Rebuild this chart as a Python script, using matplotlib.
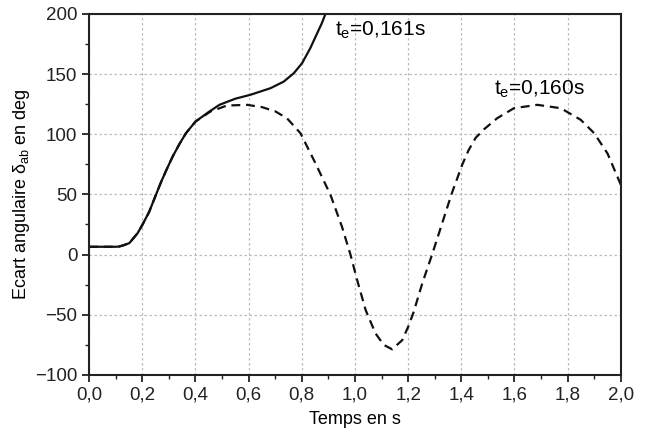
import numpy as np
import matplotlib
matplotlib.use('Agg')
import matplotlib.pyplot as plt
from matplotlib.ticker import MultipleLocator

plt.rcParams['font.family'] = ['Liberation Sans', 'DejaVu Sans']
plt.rcParams['mathtext.fontset'] = 'custom'
plt.rcParams['mathtext.rm'] = 'Liberation Sans'
plt.rcParams['mathtext.it'] = 'Liberation Sans:italic'

# ===== DATA =====
# t_e = 0,161 s : instable (courbe continue)
t_instable = [0.0, 0.05, 0.10, 0.113, 0.13, 0.151, 0.182, 0.20, 0.226, 0.251,
              0.27, 0.29, 0.314, 0.34, 0.364, 0.40, 0.452, 0.49, 0.55, 0.606,
              0.682, 0.732, 0.77, 0.801, 0.832, 0.858, 0.875, 0.889]
d_instable = [6.5, 6.5, 6.5, 6.7, 7.8, 9.5, 17.7, 24.6, 35.6, 49.5,
              60.0, 70.0, 81.4, 92.0, 100.8, 110.5, 118.8, 124.4, 129.5, 132.7,
              138.2, 143.7, 150.7, 159.0, 171.5, 184.0, 192.0, 200.0]

# t_e = 0,160 s : stable (courbe en tirets)
t_stable = [0.0, 0.05, 0.10, 0.113, 0.13, 0.151, 0.182, 0.20, 0.226, 0.251,
            0.27, 0.29, 0.314, 0.34, 0.364, 0.40, 0.456, 0.518, 0.594, 0.65,
            0.70, 0.744, 0.795, 0.851, 0.908, 0.951, 0.983, 1.008, 1.04, 1.077,
            1.108, 1.14, 1.178, 1.203, 1.221, 1.253, 1.29, 1.328, 1.341, 1.366,
            1.404, 1.428, 1.454, 1.485, 1.535, 1.598, 1.686, 1.774, 1.849, 1.90,
            1.95, 2.0]
d_stable = [6.5, 6.5, 6.5, 6.7, 7.8, 9.5, 17.7, 24.6, 35.6, 49.5,
            60.0, 70.0, 81.4, 92.0, 100.8, 110.5, 118.8, 123.8, 124.4, 122.5,
            119.0, 113.3, 100.8, 76.0, 49.5, 23.2, 0.0, -21.0, -46.0, -65.4,
            -75.0, -78.7, -71.0, -58.5, -47.5, -24.0, 0.0, 26.0, 35.0, 52.0,
            75.0, 87.0, 97.0, 104.0, 113.3, 121.6, 124.4, 121.6, 112.0, 100.8,
            84.0, 58.0]

x_ticks = [0.0, 0.2, 0.4, 0.6, 0.8, 1.0, 1.2, 1.4, 1.6, 1.8, 2.0]
x_ticklabels = ['0,0', '0,2', '0,4', '0,6', '0,8', '1,0', '1,2', '1,4', '1,6', '1,8', '2,0']
y_ticks = [-100, -50, 0, 50, 100, 150, 200]

fig = plt.figure(figsize=(6.46, 4.32), dpi=100)
ax = fig.add_axes([0.138, 0.132, 0.823, 0.836])

ax.plot(t_instable, d_instable, color='#111111', lw=1.6, ls='-')
ax.plot(t_stable, d_stable, color='#111111', lw=1.6, ls=(0, (4, 2.6)))

ax.text(0.925, 186, r'$\mathrm{t_e}$=0,161s', fontsize=15, va='center', ha='left')
ax.text(1.523, 137, r'$\mathrm{t_e}$=0,160s', fontsize=15, va='center', ha='left')

ax.set_xlim(0, 2.0)
ax.set_ylim(-100, 200)
ax.set_xticks(x_ticks)
ax.set_xticklabels(x_ticklabels)
ax.set_yticks(y_ticks)
ax.xaxis.set_minor_locator(MultipleLocator(0.1))
ax.yaxis.set_minor_locator(MultipleLocator(25))

ax.tick_params(which='major', direction='out', length=5, width=1.3, labelsize=13.5,
               top=False, right=False, colors='#222222')
ax.tick_params(which='minor', direction='out', length=3, width=1.0,
               top=False, right=False, colors='#222222')

for sp in ax.spines.values():
    sp.set_linewidth(1.5)
    sp.set_color('#222222')

ax.grid(True, which='major', color='#bbbbbb', lw=0.9, ls=(0, (2, 2)))

ax.set_xlabel('Temps en s', fontsize=13, labelpad=5)
ax.set_ylabel(r'Ecart angulaire δ$_{\mathrm{ab}}$ en deg', fontsize=13, labelpad=2)

fig.savefig('out.png', dpi=100)
